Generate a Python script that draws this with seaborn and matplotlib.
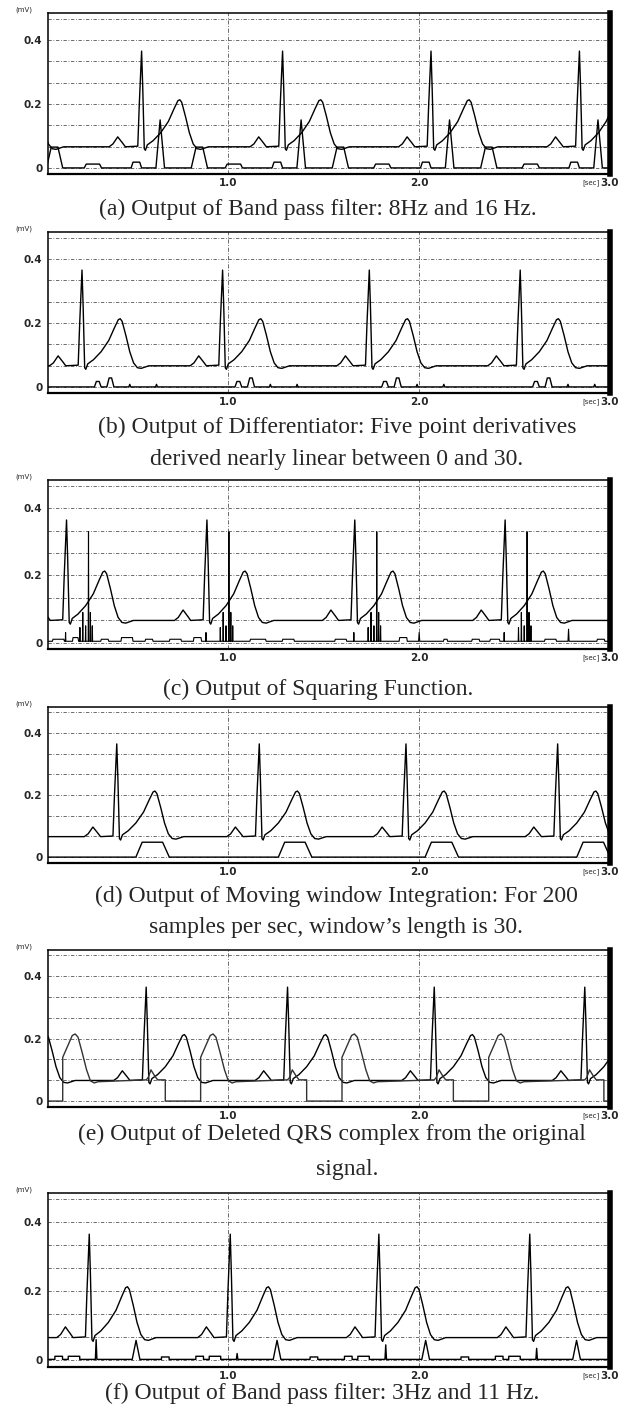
import matplotlib
matplotlib.use("Agg")
import matplotlib.pyplot as plt
import matplotlib.transforms as mtransforms
import pandas as pd
import seaborn as sns

# one heart beat around its R peak: offset from R (sec) and amplitude (mV)
BEAT_DT = [-0.17, -0.15, -0.125, -0.10, -0.085, -0.02, -0.012, 0.0, 0.006, 0.014, 0.02, 0.03,
           0.06, 0.10, 0.14, 0.17, 0.19, 0.20, 0.21, 0.23, 0.25, 0.27, 0.29, 0.31, 0.35]
BEAT_MV = [0.066, 0.075, 0.097, 0.078, 0.066, 0.068, 0.20, 0.365, 0.25, 0.06, 0.055, 0.072,
           0.085, 0.11, 0.145, 0.185, 0.21, 0.213, 0.205, 0.16, 0.11, 0.075, 0.06, 0.058, 0.066]

# R peak times per panel (first / last beat sit outside the 0-3 s window)
R_A = [-0.21, 0.548, 1.286, 2.063, 2.84, 3.6]
R_B = [-0.50, 0.236, 0.972, 1.74, 2.53, 3.3]
R_C = [-0.58, 0.155, 0.89, 1.664, 2.451, 3.24]
R_D = [-0.33, 0.418, 1.164, 1.932, 2.726, 3.5]
R_E = [-0.15, 0.572, 1.312, 2.08, 2.868, 3.65]
R_F = [-0.46, 0.274, 1.012, 1.79, 2.58, 3.36]

# lower traces: pulses relative to R -> (start, top start, top end, end, height mV)
A_PULSES = [(-0.30, -0.29, -0.22, -0.21, 0.012), (-0.055, -0.045, -0.01, 0.0, 0.018),
            (0.075, 0.097, 0.097, 0.12, 0.15), (0.26, 0.285, 0.32, 0.345, 0.065)]
B_PULSES = [(0.065, 0.075, 0.09, 0.10, 0.017), (0.13, 0.142, 0.155, 0.167, 0.028),
            (0.245, 0.25, 0.25, 0.255, 0.008), (0.385, 0.39, 0.39, 0.395, 0.008)]
C_SPIKES = [(-0.005, 0.03), (0.07, 0.045), (0.085, 0.09), (0.10, 0.05),
            (0.115, 0.33), (0.125, 0.09), (0.135, 0.05)]
C_STEPS = [(0.081, 0.144, 0.010), (0.186, 0.218, 0.015), (0.334, 0.376, 0.010),
           (0.44, 0.503, 0.015), (0.566, 0.608, 0.010), (0.693, 0.757, 0.010),
           (0.819, 0.862, 0.015), (1.115, 1.20, 0.010), (1.284, 1.348, 0.010),
           (1.559, 1.622, 0.010), (1.896, 1.939, 0.015), (1.998, 2.004, 0.030),
           (2.128, 2.15, 0.010), (2.276, 2.318, 0.010), (2.371, 2.424, 0.010),
           (2.657, 2.72, 0.010), (2.78, 2.786, 0.040), (2.931, 2.973, 0.010)]
D_PULSES = [(0.10, 0.133, 0.24, 0.275, 0.048)]
# QRS-deleted copy of the signal, relative to the original R peak
DEL_DT = [0.0, 0.01, 0.025, 0.045, 0.06, 0.10, 0.10, 0.285, 0.285, 0.31, 0.335, 0.35,
          0.365, 0.385, 0.41, 0.43, 0.45, 0.47]
DEL_MV = [0.068, 0.075, 0.10, 0.08, 0.068, 0.068, 0.0, 0.0, 0.14, 0.175, 0.21, 0.215,
          0.205, 0.16, 0.10, 0.065, 0.058, 0.062]
F_PULSES = [(-0.36, -0.36, -0.32, -0.32, 0.010), (-0.18, -0.18, -0.14, -0.14, 0.012),
            (-0.11, -0.11, -0.05, -0.05, 0.012), (0.225, 0.245, 0.245, 0.265, 0.058)]
F_SPIKE_H = [0.03, 0.06, 0.02, 0.045, 0.035, 0.03]

CAPTIONS = [
    ["(a) Output of Band pass filter: 8Hz and 16 Hz."],
    ["(b) Output of Differentiator: Five point derivatives",
     "derived nearly linear between 0 and 30."],
    ["(c) Output of Squaring Function."],
    ["(d) Output of Moving window Integration: For 200",
     "samples per sec, window\u2019s length is 30."],
    ["(e) Output of Deleted QRS complex from the original", "signal."],
    ["(f) Output of Band pass filter: 3Hz and 11 Hz."],
]
CAPTION_Y = [[209], [427, 459], [689], [896, 928], [1134, 1170], [1393]]
CAPTION_X = [[318], [337], [318], [336], [332, 347], [322]]


def beats(r_list, dts, mvs):
    t, v = [], []
    for r in r_list:
        t += [r + d for d in dts]
        v += list(mvs)
    return pd.DataFrame({"t": t, "mV": v})


def pulses(events, base=0.0):
    t, v = [-1.0], [base]
    for a, b, c, d, h in sorted(events):
        t += [a, b, c, d]
        v += [base, h, h, base]
    t.append(4.0)
    v.append(base)
    return pd.DataFrame({"t": t, "mV": v})


def rel(r_list, template):
    return [(r + a, r + b, r + c, r + d, h) for r in r_list for a, b, c, d, h in template]


lower_a = pulses(rel(R_A, A_PULSES))
lower_b = pulses(rel(R_B, B_PULSES))
c_events = rel(R_C, [(s - 0.0015, s, s, s + 0.0015, h) for s, h in C_SPIKES])
c_events += [(a, a + 0.003, b - 0.003, b, h) for a, b, h in C_STEPS]
lower_c = pulses(c_events, base=0.004)
lower_d = pulses(rel(R_D, D_PULSES))
lower_e = beats(R_E, DEL_DT, DEL_MV)
f_events = rel(R_F, F_PULSES)
f_events += [(r + 0.032, r + 0.036, r + 0.036, r + 0.040, h) for r, h in zip(R_F, F_SPIKE_H)]
lower_f = pulses(f_events, base=0.003)

panels = [
    (beats(R_A, BEAT_DT, BEAT_MV), lower_a),
    (beats(R_B, BEAT_DT, BEAT_MV), lower_b),
    (beats(R_C, BEAT_DT, BEAT_MV), lower_c),
    (beats(R_D, BEAT_DT, BEAT_MV), lower_d),
    (beats(R_E, BEAT_DT, BEAT_MV), lower_e),
    (beats(R_F, BEAT_DT, BEAT_MV), lower_f),
]

sns.set_theme(style="white")
plt.rcParams["font.family"] = ["DejaVu Sans"]

W, H = 636, 1415
fig = plt.figure(figsize=(W / 100, H / 100), dpi=100)
fig.patch.set_facecolor("white")

PANEL_PX = [(13, 174), (232, 393), (480, 649), (707, 863), (950, 1107), (1193, 1367)]
LEFT_PX, RIGHT_PX = 48, 610

for i, (ecg, lower) in enumerate(panels):
    top, bot = PANEL_PX[i]
    ax = fig.add_axes([LEFT_PX / W, 1 - bot / H, (RIGHT_PX - LEFT_PX) / W, (bot - top) / H])
    ax.set_facecolor("white")

    sns.lineplot(data=ecg, x="t", y="mV", ax=ax, color="black", lw=1.0,
                 estimator=None, sort=False)
    lower_color = "#333333" if i == 4 else "black"
    sns.lineplot(data=lower, x="t", y="mV", ax=ax, color=lower_color,
                 lw=0.8 if i == 2 else 1.0, estimator=None, sort=False)

    ax.set_xlim(0.058, 3.0)
    ax.set_ylim(-0.019, 0.484)
    ax.set_xlabel("")
    ax.set_ylabel("")

    ax.set_yticks([0, 0.2, 0.4])
    ax.set_yticklabels(["0", "0.2", "0.4"])
    ax.set_yticks([0.2 / 3 * k for k in (1, 2, 4, 5, 7)], minor=True)
    ax.set_xticks([1.0, 2.0, 3.0])
    ax.set_xticklabels(["1.0", "2.0", "3.0"])
    ax.tick_params(axis="y", which="major", direction="out", length=3, width=1.0,
                   color="black", pad=1, labelsize=7.5)
    ax.tick_params(axis="y", which="minor", length=0)
    ax.tick_params(axis="x", length=0, pad=3, labelsize=7.5)
    for lab in ax.get_xticklabels() + ax.get_yticklabels():
        lab.set_fontweight("bold")

    ax.grid(True, axis="y", which="both", color="#555555", lw=0.6, ls=(0, (4, 2, 1, 2)))
    ax.grid(True, axis="x", which="major", color="#555555", lw=0.6, ls=(0, (5, 2, 1, 2)))

    for side in ["left", "top"]:
        ax.spines[side].set_linewidth(1.1)
        ax.spines[side].set_color("black")
    ax.spines["bottom"].set_linewidth(1.6)
    ax.spines["bottom"].set_color("black")
    ax.spines["right"].set_linewidth(4.0)
    ax.spines["right"].set_color("black")

    ax.text(-24 / (RIGHT_PX - LEFT_PX), 1.0, "(mV)", transform=ax.transAxes,
            fontsize=5, ha="center", va="bottom")
    sec_tr = mtransforms.offset_copy(ax.get_xaxis_transform(), fig=fig, y=-3.5, units="points")
    ax.text(2.9, 0, "[sec]", transform=sec_tr, fontsize=5, ha="center", va="top")

    for line, yc, xc in zip(CAPTIONS[i], CAPTION_Y[i], CAPTION_X[i] * 2):
        fig.text(xc / W, 1 - yc / H, line, ha="center", va="center",
                 fontsize=17, family=["Liberation Serif", "DejaVu Serif"])

fig.savefig("out.png", dpi=100, facecolor="white")
